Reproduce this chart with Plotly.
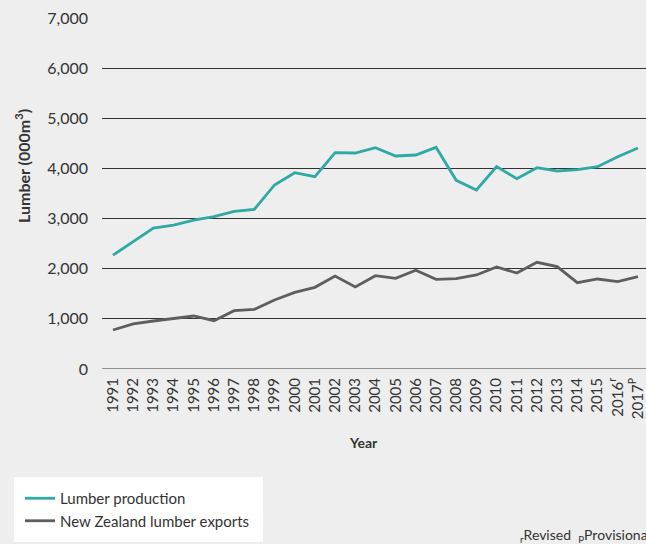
import plotly.graph_objects as go

years = list(range(1991, 2018))
tick_labels = [str(y) for y in range(1991, 2016)] + ["2016<sup>r</sup>", "2017<sup>P</sup>"]
production = [2270, 2540, 2810, 2870, 2970, 3040, 3145, 3185, 3670, 3915, 3835,
              4314, 4308, 4414, 4248, 4268, 4421, 3763, 3570, 4035, 3796, 4015,
              3949, 3975, 4035, 4234, 4408]
exports = [778, 898, 957, 1011, 1057, 964, 1163, 1190, 1376, 1529, 1629,
           1855, 1635, 1861, 1809, 1968, 1789, 1802, 1875, 2034, 1915, 2128,
           2041, 1721, 1795, 1741, 1841]

FONT = "Lato"
TEAL = "#2fa9a5"
GREY = "#5e5e5e"

fig = go.Figure()
fig.add_trace(go.Scatter(x=years, y=production, mode="lines", name="Lumber production",
                         line=dict(color=TEAL, width=2.8)))
fig.add_trace(go.Scatter(x=years, y=exports, mode="lines", name="New Zealand lumber exports",
                         line=dict(color=GREY, width=2.8)))

W, H = 646, 544
L, R, T, B = 102, 0, 18, 175
pw, ph = W - L - R, H - T - B

def px(x):
    return (x - L) / pw

def py(y):
    return (H - B - y) / ph

fig.update_layout(
    width=W, height=H,
    margin=dict(l=L, r=R, t=T, b=B, pad=0),
    paper_bgcolor="#eeeeee", plot_bgcolor="#eeeeee",
    font=dict(family=FONT, color="#333333"),
    showlegend=True,
    legend=dict(x=px(20), y=py(482), xanchor="left", yanchor="top",
                bgcolor="rgba(0,0,0,0)", font=dict(size=15, family=FONT, color="#333333"),
                itemwidth=30, tracegroupgap=0),
    xaxis=dict(range=[1990.455, 2017.4], tickvals=years, ticktext=tick_labels,
               tickangle=-90, showgrid=False, zeroline=False, showline=False,
               ticks="", tickfont=dict(size=15, family=FONT, color="#333333"),
               ticklabelstandoff=5),
    yaxis=dict(range=[0, 7000], tickvals=[0, 1000, 2000, 3000, 4000, 5000, 6000, 7000],
               tickformat=",", showgrid=True, gridcolor="#333333", gridwidth=1,
               zeroline=False, showline=False, ticks="",
               tickfont=dict(size=16, family=FONT, color="#333333"),
               ticklabelstandoff=13),
    shapes=[
        dict(type="line", xref="paper", yref="y", x0=0, x1=1, y0=0, y1=0,
             line=dict(color="#333333", width=1), layer="below"),
        dict(type="rect", xref="paper", yref="paper", x0=px(14), x1=px(263),
             y0=py(542), y1=py(477), fillcolor="white", line=dict(width=0), layer="below"),
    ],
    annotations=[
        dict(text="<b>Lumber (000m<sup>3</sup>)</b>", xref="paper", yref="paper",
             x=px(22), y=py(166), xanchor="center", yanchor="middle",
             textangle=-90, showarrow=False,
             font=dict(size=16, family=FONT, color="#333333")),
        dict(text="<b>Year</b>", xref="paper", yref="paper",
             x=px(363), y=py(442), xanchor="center", yanchor="middle", showarrow=False,
             font=dict(size=14, family=FONT, color="#333333")),
        dict(text="<sub>r</sub>Revised  <sub>P</sub>Provisional", xref="paper", yref="paper",
             x=px(518), y=py(535), xanchor="left", yanchor="middle", showarrow=False,
             font=dict(size=14, family=FONT, color="#333333")),
    ],
)

fig.write_html(
    "out.html",
    config={"displayModeBar": False},
    post_script="document.body.style.margin='0';document.body.style.overflow='hidden';",
)
